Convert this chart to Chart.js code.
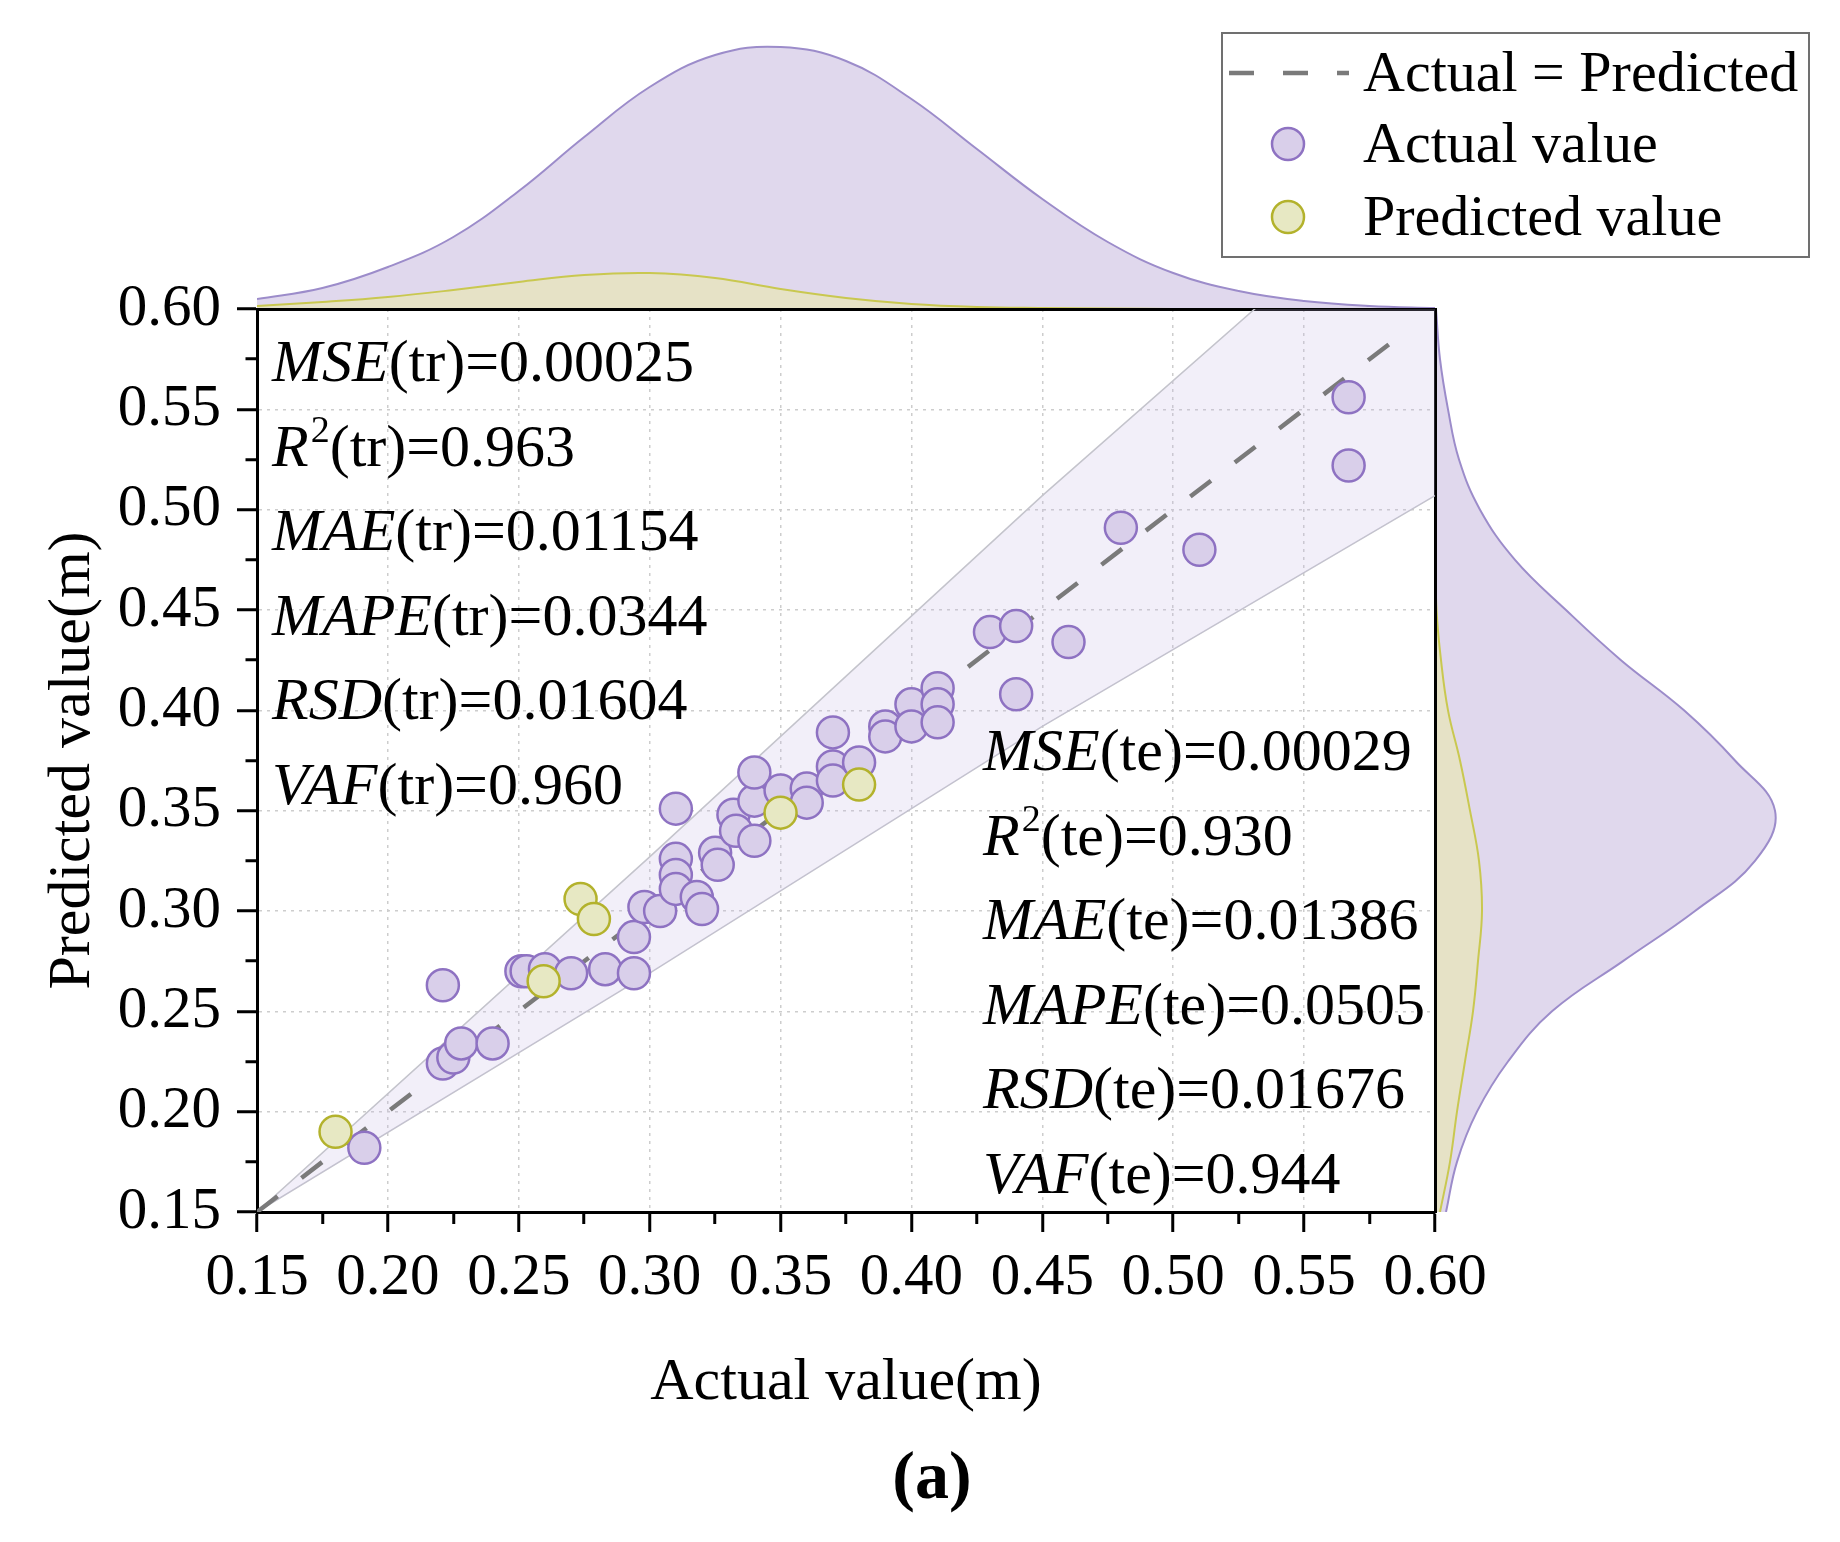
<!DOCTYPE html>
<html>
<head>
<meta charset="utf-8">
<script src="https://cdn.jsdelivr.net/npm/chart.js@4.4.1/dist/chart.umd.min.js"></script>
<style>
	html, body { margin: 0; padding: 0; background: #fff; }
	#wrap { position: relative; width: 1840px; height: 1542px; }
	canvas { position: absolute; }
</style>
</head>
<body>
<div id="wrap">
	<canvas id="topKde" width="1840" height="320" style="left:0;top:0"></canvas>
	<canvas id="rightKde" width="440" height="1542" style="left:1400px;top:0"></canvas>
	<canvas id="main" width="1840" height="1542" style="left:0;top:0"></canvas>
</div>
<script>
// scatter points (purple = "Actual value", yellow = "Predicted value")
const actualX = [0.191, 0.221, 0.221, 0.225, 0.228, 0.240, 0.251, 0.253, 0.260, 0.270,
	0.283, 0.294, 0.294, 0.298, 0.304, 0.310, 0.310, 0.310, 0.318, 0.320,
	0.325, 0.326, 0.310, 0.332, 0.333, 0.340, 0.340, 0.340, 0.350, 0.360,
	0.360, 0.370, 0.370, 0.370, 0.380, 0.390, 0.390, 0.400, 0.400, 0.410,
	0.410, 0.410, 0.430, 0.440, 0.460, 0.440, 0.480, 0.510, 0.567, 0.567];
const actualY = [0.182, 0.263, 0.224, 0.227, 0.234, 0.234, 0.270, 0.270, 0.271, 0.269,
	0.271, 0.269, 0.287, 0.302, 0.300, 0.326, 0.318, 0.311, 0.307, 0.301,
	0.329, 0.323, 0.351, 0.348, 0.340, 0.335, 0.355, 0.369, 0.360, 0.361,
	0.354, 0.389, 0.372, 0.365, 0.374, 0.392, 0.387, 0.403, 0.392, 0.411,
	0.403, 0.394, 0.439, 0.442, 0.434, 0.408, 0.491, 0.480, 0.556, 0.522];
const predX = [0.180, 0.2595, 0.2736, 0.2787, 0.350, 0.380];
const predY = [0.190, 0.265, 0.306, 0.296, 0.349, 0.363];

// 1:1 line and the shaded band around it
const diagX = [0.15, 0.59];
const bandX = [0.15, 0.30, 0.45, 0.60];
const bandUpper = [0.15, 0.327, 0.507, 0.679];
const bandLower = [0.15, 0.269, 0.392, 0.507];

// marginal densities
const kdeGrid = [0.150, 0.175, 0.200, 0.225, 0.250, 0.275, 0.300, 0.325, 0.350, 0.375,
	0.400, 0.425, 0.450, 0.475, 0.500, 0.525, 0.550, 0.575, 0.600];
const topActualKde = [0.20, 0.42, 0.84, 1.44, 2.36, 3.44, 4.44, 5.08, 5.24, 4.96,
	4.20, 3.20, 2.20, 1.34, 0.72, 0.36, 0.16, 0.06, 0.02];
const topPredKde = [0.06, 0.14, 0.24, 0.38, 0.54, 0.68, 0.72, 0.62, 0.40, 0.22,
	0.10, 0.04, 0.02, 0.01, 0, 0, 0, 0, 0];
const rightActualKde = [0.22, 0.44, 0.84, 1.46, 2.34, 3.76, 5.20, 6.40, 6.80, 6.00,
	4.98, 3.72, 2.62, 1.60, 0.90, 0.48, 0.26, 0.10, 0.02];
const rightPredKde = [0.10, 0.30, 0.44, 0.60, 0.76, 0.86, 0.94, 0.88, 0.70, 0.50,
	0.26, 0.12, 0.03, 0.01, 0, 0, 0, 0, 0];

// metric annotations
const trainStats = [
	['MSE', '', 'tr', '0.00025'],
	['R', '2', 'tr', '0.963'],
	['MAE', '', 'tr', '0.01154'],
	['MAPE', '', 'tr', '0.0344'],
	['RSD', '', 'tr', '0.01604'],
	['VAF', '', 'tr', '0.960']
];
const testStats = [
	['MSE', '', 'te', '0.00029'],
	['R', '2', 'te', '0.930'],
	['MAE', '', 'te', '0.01386'],
	['MAPE', '', 'te', '0.0505'],
	['RSD', '', 'te', '0.01676'],
	['VAF', '', 'te', '0.944']
];

const FONT = "'Liberation Serif', 'Times New Roman', serif";
const PURPLE_FILL = '#d9cfea';
const PURPLE_LINE = '#8e72c2';
const YELLOW_FILL = '#e7e8c3';
const YELLOW_LINE = '#b3b22c';

Chart.defaults.color = '#000';
Chart.defaults.font.family = FONT;

const toPts = (xs, ys) => xs.map((x, i) => ({x, y: ys[i]}));
const isMajor = v => Math.abs(Math.round(v * 1000) % 50) === 0;
const inner = v => v > 0.16 && v < 0.59;

function drawStat(ctx, x, y, row) {
	const [name, sup, tag, val] = row;
	ctx.font = `italic 60px ${FONT}`;
	ctx.fillText(name, x, y);
	x += ctx.measureText(name).width;
	if (sup) {
		ctx.font = `38px ${FONT}`;
		ctx.fillText(sup, x + 2, y - 24);
		x += ctx.measureText(sup).width + 2;
	}
	ctx.font = `60px ${FONT}`;
	ctx.fillText(`(${tag})=${val}`, x, y);
}

const annotations = {
	id: 'annotations',
	afterDraw(chart) {
		const ctx = chart.ctx;
		const ds = chart.data.datasets;
		ctx.save();
		ctx.fillStyle = '#000';
		ctx.textAlign = 'left';
		ctx.textBaseline = 'alphabetic';
		trainStats.forEach((row, i) => drawStat(ctx, 272, 381 + i * 84.5, row));
		testStats.forEach((row, i) => drawStat(ctx, 983, 770 + i * 84.5, row));

		// legend box
		ctx.fillStyle = '#fff';
		ctx.fillRect(1222, 33, 587, 224);
		ctx.strokeStyle = '#707070';
		ctx.lineWidth = 2;
		ctx.strokeRect(1222, 33, 587, 224);

		const diag = ds[2];
		ctx.strokeStyle = diag.borderColor;
		ctx.lineWidth = diag.borderWidth;
		ctx.setLineDash([25, 29]);
		ctx.beginPath();
		ctx.moveTo(1229, 73);
		ctx.lineTo(1349, 73);
		ctx.stroke();
		ctx.setLineDash([]);

		[[ds[1], 144], [ds[0], 217]].forEach(([d, y]) => {
			ctx.beginPath();
			ctx.arc(1288, y, 16, 0, Math.PI * 2);
			ctx.fillStyle = d.backgroundColor;
			ctx.fill();
			ctx.strokeStyle = d.borderColor;
			ctx.lineWidth = 2.5;
			ctx.stroke();
		});

		ctx.fillStyle = '#000';
		ctx.font = `58px ${FONT}`;
		ctx.textBaseline = 'middle';
		ctx.fillText(diag.label, 1363, 76);
		ctx.fillText(ds[1].label, 1363, 147);
		ctx.fillText(ds[0].label, 1363, 220);

		ctx.font = `bold 68px ${FONT}`;
		ctx.textAlign = 'center';
		ctx.fillText('(a)', 932, 1480);
		ctx.restore();
	}
};

const mainChart = new Chart(document.getElementById('main'), {
	type: 'scatter',
	data: {
		datasets: [
			{
				label: 'Predicted value',
				data: toPts(predX, predY),
				backgroundColor: YELLOW_FILL,
				borderColor: YELLOW_LINE,
				borderWidth: 2.5,
				pointRadius: 16,
				order: 0
			},
			{
				label: 'Actual value',
				data: toPts(actualX, actualY),
				backgroundColor: PURPLE_FILL,
				borderColor: PURPLE_LINE,
				borderWidth: 2.5,
				pointRadius: 16,
				order: 1
			},
			{
				label: 'Actual = Predicted',
				type: 'line',
				data: toPts(diagX, diagX),
				borderColor: '#7a7a7a',
				borderWidth: 4.5,
				borderDash: [26, 30],
				pointRadius: 0,
				fill: false,
				order: 2
			},
			{
				label: 'upper',
				type: 'line',
				data: toPts(bandX, bandUpper),
				borderColor: '#c4c4cc',
				borderWidth: 1.5,
				backgroundColor: 'rgba(196, 184, 226, 0.22)',
				pointRadius: 0,
				fill: '+1',
				order: 3
			},
			{
				label: 'lower',
				type: 'line',
				data: toPts(bandX, bandLower),
				borderColor: '#c4c4cc',
				borderWidth: 1.5,
				pointRadius: 0,
				fill: false,
				order: 4
			}
		]
	},
	options: {
		responsive: false,
		animation: false,
		layout: { autoPadding: false, padding: { left: 20, top: 309, right: 405, bottom: 123 } },
		plugins: { legend: { display: false }, tooltip: { enabled: false } },
		scales: {
			x: {
				type: 'linear',
				position: 'bottom',
				min: 0.15,
				max: 0.60,
				afterFit: s => { s.height = 207; },
				ticks: {
					stepSize: 0.025,
					autoSkip: false,
					maxRotation: 0,
					minRotation: 0,
					padding: 11,
					font: { size: 59 },
					callback: v => isMajor(v) ? v.toFixed(2) : ''
				},
				grid: {
					color: c => c.tick && isMajor(c.tick.value) && inner(c.tick.value) ? '#cdcdcd' : 'rgba(0,0,0,0)',
					lineWidth: 1.5,
					tickLength: 20,
					tickWidth: 3,
					tickColor: '#000',
					tickBorderDash: c => c.tick && isMajor(c.tick.value) ? [] : [10, 100]
				},
				border: { color: '#000', width: 3, dash: [3, 5] },
				title: {
					display: true,
					text: 'Actual value(m)',
					font: { size: 60 },
					padding: { top: 0, bottom: 0 }
				}
			},
			y: {
				type: 'linear',
				position: 'left',
				min: 0.15,
				max: 0.60,
				afterFit: s => { s.width = 237; },
				ticks: {
					stepSize: 0.025,
					autoSkip: false,
					padding: 16,
					font: { size: 59 },
					callback: v => isMajor(v) ? v.toFixed(2) : ''
				},
				grid: {
					color: c => c.tick && isMajor(c.tick.value) && inner(c.tick.value) ? '#cdcdcd' : 'rgba(0,0,0,0)',
					lineWidth: 1.5,
					tickLength: 20,
					tickWidth: 3,
					tickColor: '#000',
					tickBorderDash: c => c.tick && isMajor(c.tick.value) ? [] : [0, 8.5, 12, 100]
				},
				border: { color: '#000', width: 3, dash: [3, 5] },
				title: {
					display: true,
					text: 'Predicted value(m)',
					font: { size: 60 },
					padding: { top: 17, bottom: 0 }
				}
			},
			xTop: {
				type: 'linear',
				position: 'top',
				display: true,
				min: 0.15,
				max: 0.60,
				afterFit: s => { s.height = 0; },
				ticks: { display: false },
				grid: { display: false, drawTicks: false },
				border: { color: '#000', width: 3 }
			},
			yRight: {
				type: 'linear',
				position: 'right',
				display: true,
				min: 0.15,
				max: 0.60,
				afterFit: s => { s.width = 0; },
				ticks: { display: false },
				grid: { display: false, drawTicks: false },
				border: { color: '#000', width: 3 }
			}
		}
	},
	plugins: [annotations]
});

const kdeLine = { borderWidth: 2, tension: 0.4 };

const topChart = new Chart(document.getElementById('topKde'), {
	type: 'line',
	data: {
		datasets: [
			{ data: toPts(kdeGrid, topPredKde), borderColor: '#c9c850', backgroundColor: '#e6e2c6', fill: 'origin', order: 0 },
			{ data: toPts(kdeGrid, topActualKde), borderColor: '#9c8cca', backgroundColor: '#e0d8ed', fill: 'origin', order: 1 }
		]
	},
	options: {
		responsive: false,
		animation: false,
		layout: { autoPadding: false, padding: { left: 257, right: 405, top: 40, bottom: 11 } },
		elements: { point: { radius: 0 }, line: kdeLine },
		plugins: { legend: { display: false }, tooltip: { enabled: false } },
		scales: {
			x: { type: 'linear', min: 0.15, max: 0.60, display: false },
			y: { type: 'linear', min: 0, max: 5.38, display: false }
		}
	}
});

const rightChart = new Chart(document.getElementById('rightKde'), {
	type: 'line',
	data: {
		datasets: [
			{ data: toPts(rightPredKde, kdeGrid), borderColor: '#c9c850', backgroundColor: '#e6e2c6', fill: 'origin', order: 0 },
			{ data: toPts(rightActualKde, kdeGrid), borderColor: '#9c8cca', backgroundColor: '#e0d8ed', fill: 'origin', order: 1 }
		]
	},
	options: {
		indexAxis: 'y',
		responsive: false,
		animation: false,
		layout: { autoPadding: false, padding: { left: 35, right: 50, top: 309, bottom: 330 } },
		elements: { point: { radius: 0 }, line: kdeLine },
		plugins: { legend: { display: false }, tooltip: { enabled: false } },
		scales: {
			x: { type: 'linear', min: 0, max: 7.1, display: false },
			y: { type: 'linear', min: 0.15, max: 0.60, display: false }
		}
	}
});
</script>
</body>
</html>
